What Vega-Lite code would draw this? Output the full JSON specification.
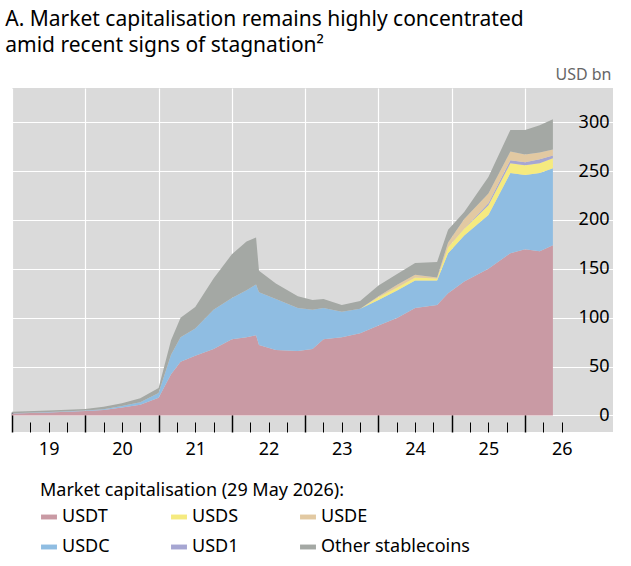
{
  "$schema": "https://vega.github.io/schema/vega-lite/v6.json",
  "width": 601,
  "height": 344,
  "autosize": "none",
  "padding": {"left": 12, "top": 88, "right": 18, "bottom": 134},
  "title": {
    "text": ["A. Market capitalisation remains highly concentrated", "amid recent signs of stagnation²"],
    "anchor": "start",
    "frame": "bounds",
    "dx": -4,
    "offset": 10,
    "font": "Noto Sans",
    "fontSize": 21,
    "fontWeight": "normal",
    "color": "black",
    "lineHeight": 26
  },
  "data": {
    "values": [
      {"t": 2019.0, "USDT": 2, "USDC": 0.3, "USDS": 0, "USD1": 0, "USDE": 0, "Other stablecoins": 1.5},
      {"t": 2019.5, "USDT": 3, "USDC": 0.4, "USDS": 0, "USD1": 0, "USDE": 0, "Other stablecoins": 1.5},
      {"t": 2020.0, "USDT": 4.5, "USDC": 0.6, "USDS": 0, "USD1": 0, "USDE": 0, "Other stablecoins": 1.5},
      {"t": 2020.25, "USDT": 5.5, "USDC": 0.8, "USDS": 0, "USD1": 0, "USDE": 0, "Other stablecoins": 2.5},
      {"t": 2020.5, "USDT": 8, "USDC": 1.5, "USDS": 0, "USD1": 0, "USDE": 0, "Other stablecoins": 3},
      {"t": 2020.75, "USDT": 11, "USDC": 2.5, "USDS": 0, "USD1": 0, "USDE": 0, "Other stablecoins": 4},
      {"t": 2021.0, "USDT": 18, "USDC": 5, "USDS": 0, "USD1": 0, "USDE": 0, "Other stablecoins": 5},
      {"t": 2021.17, "USDT": 42, "USDC": 20, "USDS": 0, "USD1": 0, "USDE": 0, "Other stablecoins": 15},
      {"t": 2021.3, "USDT": 55, "USDC": 25, "USDS": 0, "USD1": 0, "USDE": 0, "Other stablecoins": 20},
      {"t": 2021.5, "USDT": 61, "USDC": 28, "USDS": 0, "USD1": 0, "USDE": 0, "Other stablecoins": 22},
      {"t": 2021.75, "USDT": 68, "USDC": 40, "USDS": 0, "USD1": 0, "USDE": 0, "Other stablecoins": 32},
      {"t": 2022.0, "USDT": 78, "USDC": 42, "USDS": 0, "USD1": 0, "USDE": 0, "Other stablecoins": 45},
      {"t": 2022.2, "USDT": 80, "USDC": 48, "USDS": 0, "USD1": 0, "USDE": 0, "Other stablecoins": 50},
      {"t": 2022.33, "USDT": 82, "USDC": 52, "USDS": 0, "USD1": 0, "USDE": 0, "Other stablecoins": 48},
      {"t": 2022.37, "USDT": 72, "USDC": 54, "USDS": 0, "USD1": 0, "USDE": 0, "Other stablecoins": 22},
      {"t": 2022.6, "USDT": 67, "USDC": 52, "USDS": 0, "USD1": 0, "USDE": 0, "Other stablecoins": 16},
      {"t": 2022.9, "USDT": 66, "USDC": 44, "USDS": 0, "USD1": 0, "USDE": 0, "Other stablecoins": 12},
      {"t": 2023.1, "USDT": 68, "USDC": 40, "USDS": 0, "USD1": 0, "USDE": 0, "Other stablecoins": 10},
      {"t": 2023.25, "USDT": 78, "USDC": 32, "USDS": 0, "USD1": 0, "USDE": 0, "Other stablecoins": 9},
      {"t": 2023.5, "USDT": 80, "USDC": 26, "USDS": 0, "USD1": 0, "USDE": 0, "Other stablecoins": 7},
      {"t": 2023.75, "USDT": 84, "USDC": 25, "USDS": 0, "USD1": 0, "USDE": 0, "Other stablecoins": 8},
      {"t": 2024.0, "USDT": 92, "USDC": 26, "USDS": 3, "USD1": 0, "USDE": 1, "Other stablecoins": 11},
      {"t": 2024.26, "USDT": 100, "USDC": 28, "USDS": 3, "USD1": 0, "USDE": 3, "Other stablecoins": 11},
      {"t": 2024.5, "USDT": 110, "USDC": 28, "USDS": 3, "USD1": 0, "USDE": 3, "Other stablecoins": 12},
      {"t": 2024.8, "USDT": 113, "USDC": 25, "USDS": 2, "USD1": 0, "USDE": 1, "Other stablecoins": 16},
      {"t": 2024.95, "USDT": 125, "USDC": 41, "USDS": 6, "USD1": 0, "USDE": 5, "Other stablecoins": 13},
      {"t": 2025.17, "USDT": 137, "USDC": 47, "USDS": 7, "USD1": 0, "USDE": 10, "Other stablecoins": 7},
      {"t": 2025.5, "USDT": 150, "USDC": 55, "USDS": 10, "USD1": 2, "USDE": 10, "Other stablecoins": 17},
      {"t": 2025.8, "USDT": 166, "USDC": 82, "USDS": 10, "USD1": 3, "USDE": 9, "Other stablecoins": 22},
      {"t": 2026.0, "USDT": 170, "USDC": 76, "USDS": 10, "USD1": 3, "USDE": 8, "Other stablecoins": 25},
      {"t": 2026.2, "USDT": 168, "USDC": 80, "USDS": 10, "USD1": 4, "USDE": 7, "Other stablecoins": 28},
      {"t": 2026.38, "USDT": 174, "USDC": 79, "USDS": 10, "USD1": 3, "USDE": 6, "Other stablecoins": 31}
    ]
  },
  "transform": [
    {"fold": ["USDT", "USDC", "USDS", "USD1", "USDE", "Other stablecoins"], "as": ["series", "value"]},
    {"calculate": "indexof(['USDT','USDC','USDS','USD1','USDE','Other stablecoins'], datum.series)", "as": "rank"}
  ],
  "layer": [
    {
      "mark": {"type": "area", "opacity": 1},
      "encoding": {
        "x": {
          "field": "t", "type": "quantitative",
          "scale": {"domain": [2019, 2027.2], "nice": false, "zero": false},
          "axis": {
            "orient": "bottom",
            "title": null, "values": [2019.5, 2020.5, 2021.5, 2022.5, 2023.5, 2024.5, 2025.5, 2026.5],
            "labelExpr": "floor(datum.value) % 100", "tickSize": 0, "domain": false, "grid": false,
            "labelFontSize": 18, "labelColor": "black", "labelPadding": 8, "labelFont": "Noto Sans"
          }
        },
        "y": {
          "field": "value", "type": "quantitative", "stack": "zero",
          "scale": {"domain": [-17, 335], "nice": false},
          "axis": {
            "orient": "right", "values": [0, 50, 100, 150, 200, 250, 300],
            "gridColor": "white", "gridWidth": 1.2, "domain": false, "tickSize": 0,
            "labelAlign": "right", "labelPadding": -4, "labelFontSize": 18, "labelColor": "black", "labelFont": "Noto Sans",
            "title": "USD bn", "titleAngle": 0, "titleAlign": "right", "titleBaseline": "bottom",
            "titleX": -2, "titleY": -6, "titleFontSize": 16, "titleFontWeight": "normal", "titleColor": "#666", "titleFont": "Noto Sans"
          }
        },
        "color": {
          "field": "series", "type": "nominal",
          "scale": {
            "domain": ["USDT", "USDC", "USDS", "USD1", "USDE", "Other stablecoins"],
            "range": ["#c99aa4", "#8fbde2", "#f5ea7f", "#a6a6d2", "#e2c9a2", "#a4a8a4"]
          },
          "legend": {
            "orient": "none", "legendX": 28, "legendY": 394, "columns": 3,
            "title": "Market capitalisation (29 May 2026):", "titleFontSize": 18, "titleFontWeight": "normal",
            "titleColor": "black", "titleFont": "Noto Sans", "titlePadding": 8, "titleLimit": 500,
            "labelFontSize": 18, "labelColor": "black", "labelFont": "Noto Sans", "labelLimit": 300,
            "symbolType": "M-1.3,-0.4H1.3V0.4H-1.3Z", "symbolSize": 150, "symbolStrokeWidth": 0,
            "columnPadding": 60, "rowPadding": 12
          }
        },
        "order": {"field": "rank", "type": "quantitative"}
      }
    },
    {
      "mark": {"type": "point", "opacity": 0},
      "encoding": {
        "x": {
          "field": "t", "type": "quantitative",
          "axis": {
            "orient": "bottom",
            "title": null, "values": [2019, 2020, 2021, 2022, 2023, 2024, 2025, 2026],
            "labels": false, "domain": false, "tickSize": -20, "tickColor": "black", "tickWidth": 1.5,
            "grid": true, "gridColor": "white", "gridWidth": 1.2
          }
        },
        "y": {"value": 0}
      }
    },
    {
      "mark": {"type": "point", "opacity": 0},
      "encoding": {
        "x": {
          "field": "t", "type": "quantitative",
          "axis": {
            "orient": "bottom",
            "title": null,
            "values": [2019.25, 2019.5, 2019.75, 2020.25, 2020.5, 2020.75, 2021.25, 2021.5, 2021.75, 2022.25, 2022.5, 2022.75, 2023.25, 2023.5, 2023.75, 2024.25, 2024.5, 2024.75, 2025.25, 2025.5, 2025.75, 2026.25, 2026.5],
            "labels": false, "domain": false, "tickSize": -10, "tickColor": "black", "tickWidth": 1, "grid": false
          }
        },
        "y": {"value": 0}
      }
    }
  ],
  "resolve": {"axis": {"x": "independent"}},
  "config": {
    "view": {"fill": "#dadada", "stroke": null},
    "font": "Noto Sans",
    "background": "white"
  }
}
